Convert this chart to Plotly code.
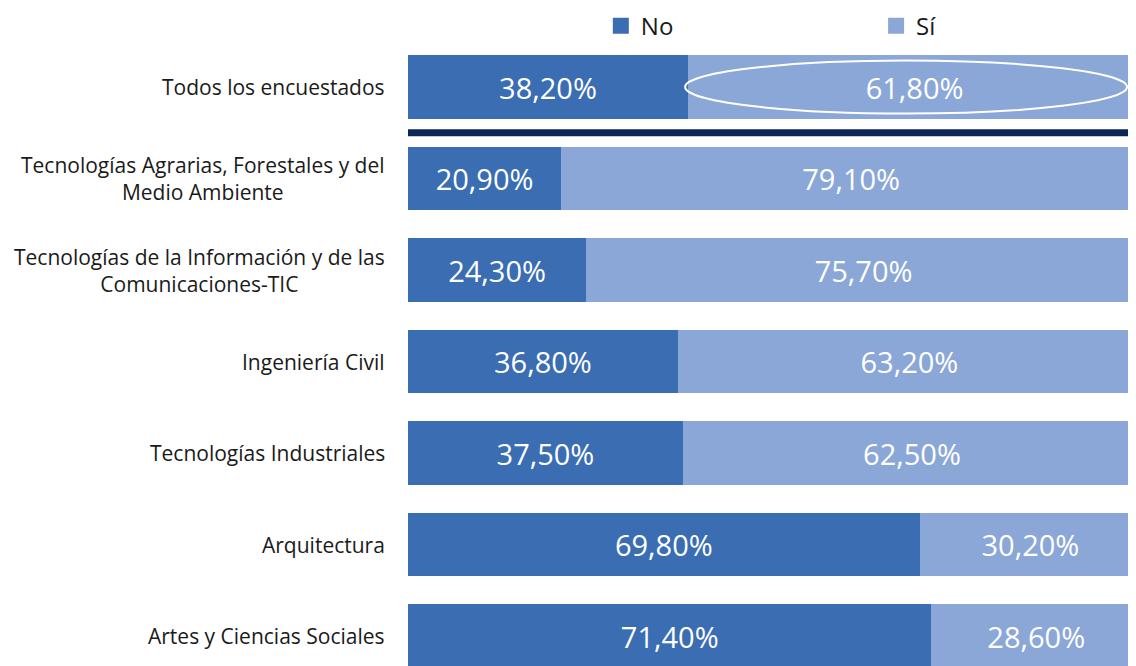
import plotly.graph_objects as go

categories = [
    "Todos los encuestados",
    "Tecnologías Agrarias, Forestales y del<br>Medio Ambiente",
    "Tecnologías de la Información y de las<br>Comunicaciones-TIC",
    "Ingeniería Civil",
    "Tecnologías Industriales",
    "Arquitectura",
    "Artes y Ciencias Sociales",
]
no_values = [38.2, 20.9, 24.3, 36.8, 37.5, 69.8, 71.4]
si_values = [61.8, 79.1, 75.7, 63.2, 62.5, 30.2, 28.6]
series_names = ["No", "Sí"]
series_colors = ["#3a6db2", "#8aa7d8"]

FONT = "Open Sans"
ypos = list(range(len(categories)))

fig = go.Figure()
for name, vals, col in zip(series_names, [no_values, si_values], series_colors):
    fig.add_trace(go.Bar(
        name=name, y=ypos, x=vals, orientation="h", showlegend=False,
        marker=dict(color=col, line=dict(width=0)),
        texttemplate="%{x:.2f}%", textposition="inside", insidetextanchor="middle",
        textfont=dict(color="white", size=29, family=FONT),
    ))

# legend entries with larger square swatches
for name, col, lg in zip(series_names, series_colors, ["legend", "legend2"]):
    fig.add_trace(go.Scatter(
        name=name, x=[None], y=[None], mode="markers", legend=lg,
        marker=dict(symbol="square", size=16, color=col),
    ))

for i, c in enumerate(categories):
    fig.add_annotation(x=-0.029, xref="paper", y=i, yref="y", text=c,
                       showarrow=False, xanchor="right", yanchor="middle",
                       align="center", font=dict(size=21, family=FONT, color="#1a1a1a"))

fig.add_shape(type="line", xref="x", yref="y", x0=0, x1=100.4, y0=0.5, y1=0.5,
              line=dict(color="#0c2657", width=7))
fig.add_shape(type="circle", xref="x", yref="y", x0=no_values[0] - 0.4, x1=98.1,
              y0=-0.29, y1=0.29, line=dict(color="white", width=2))

legend_style = dict(orientation="h", yanchor="middle", y=1.022,
                    font=dict(size=24, family=FONT, color="#1a1a1a"),
                    bgcolor="rgba(0,0,0,0)", borderwidth=0, itemsizing="trace")

fig.update_layout(
    width=1136, height=666,
    margin=dict(l=400, r=0, t=32, b=0, autoexpand=False),
    barmode="stack", bargap=0.31,
    separators=",.",
    plot_bgcolor="white", paper_bgcolor="white",
    font=dict(family=FONT),
    showlegend=True,
    legend=dict(x=0.262, xanchor="left", **legend_style),
    legend2=dict(x=0.636, xanchor="left", **legend_style),
    xaxis=dict(range=[0, 100.4], visible=False, fixedrange=True),
    yaxis=dict(range=[6.415, -0.514], showticklabels=False, showgrid=False,
               zeroline=False, fixedrange=True),
)

fig.write_html("out.html")
